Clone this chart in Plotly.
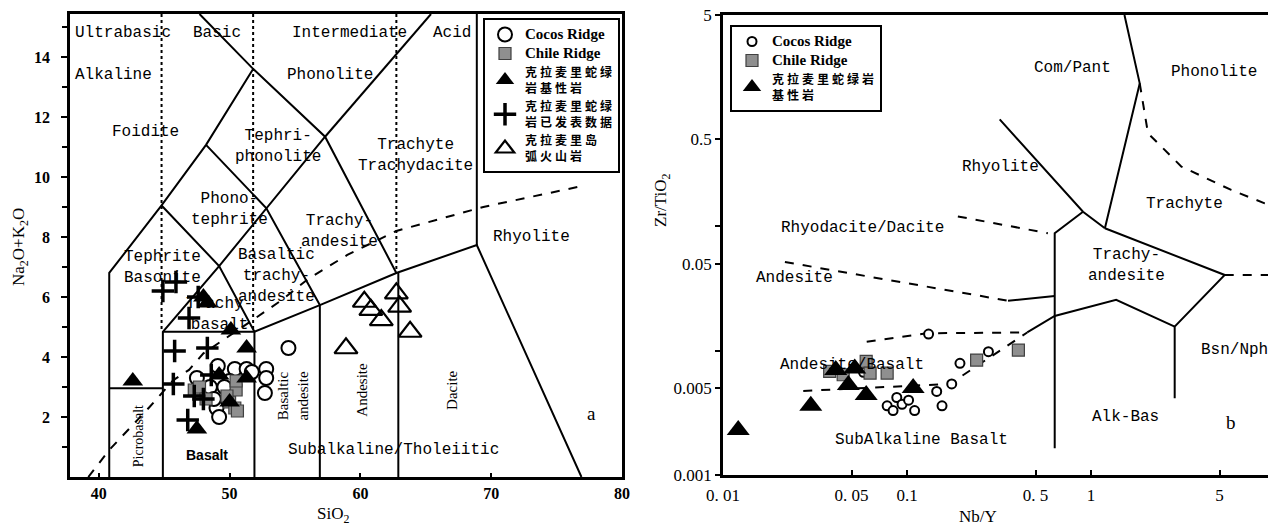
import math
import plotly.graph_objects as go

W, H = 1268, 527

# ---------------- Panel a : TAS (SiO2 vs Na2O+K2O) ----------------
cocos_a_sio2 = [47.5, 48.5, 49.1, 49.0, 49.2, 48.8, 50.4, 51.3, 51.7, 52.8, 52.8, 52.7, 54.5, 50.0, 49.6]
cocos_a_alk = [3.3, 3.0, 3.7, 2.3, 2.0, 2.6, 3.6, 3.6, 3.5, 3.6, 3.3, 2.8, 4.3, 3.2, 3.0]

chile_a_sio2 = [47.3, 47.7, 50.0, 50.5, 50.4, 50.6, 50.5, 49.8, 48.2]
chile_a_alk = [2.9, 3.0, 2.5, 2.9, 2.3, 2.2, 3.2, 2.7, 2.6]

kl_basic_a_sio2 = [42.6, 47.5, 48.0, 48.3, 50.1, 51.3, 49.2, 51.3, 50.0]
kl_basic_a_alk = [3.2, 1.6, 6.0, 5.8, 4.9, 4.3, 3.4, 3.3, 2.5]

kl_pub_a_sio2 = [44.9, 45.9, 46.9, 45.8, 48.3, 45.7, 46.8, 47.6, 48.6, 47.3, 48.0]
kl_pub_a_alk = [6.2, 6.5, 5.3, 4.2, 4.3, 3.1, 1.9, 6.0, 3.4, 2.7, 2.6]

kl_arc_a_sio2 = [60.3, 60.8, 61.6, 62.75, 63.0, 63.8, 58.9]
kl_arc_a_alk = [5.84, 5.57, 5.23, 6.12, 5.68, 4.84, 4.29]

# TAS field boundaries (SiO2, alkali)
tas_foidite_x = [40.8, 40.8, 44.8, 48.2, 51.8]
tas_foidite_y = [0.0, 6.8, 9.05, 11.07, 13.6]
tas_phonolite_x = [47.7, 51.8, 57.3, 62.75]
tas_phonolite_y = [15.43, 13.6, 11.34, 6.8]
tas_trachyte_x = [57.3, 65.4]
tas_trachyte_y = [11.34, 15.43]
tas_tephriphon_x = [48.2, 52.8, 56.9, 56.9]
tas_tephriphon_y = [11.07, 8.96, 5.73, 0.0]
tas_tephrite_x = [44.8, 49.2, 51.9, 51.9]
tas_tephrite_y = [9.05, 7.03, 4.84, 0.0]
tas_trachybas_x = [57.3, 52.8, 49.2, 44.9, 44.9]
tas_trachybas_y = [11.34, 8.96, 7.03, 4.84, 0.0]
tas_basalt_top_x = [44.9, 51.9, 56.9, 62.75, 68.9, 76.9]
tas_basalt_top_y = [4.84, 4.84, 5.73, 6.8, 7.73, 0.0]
tas_picro_x = [40.8, 44.9]
tas_picro_y = [2.96, 2.96]
tas_dacite_x = [62.9, 62.9]
tas_dacite_y = [6.8, 0.0]
tas_rhyolite_x = [68.9, 68.9]
tas_rhyolite_y = [15.43, 7.73]
tas_dotted_x = [44.8, 51.8, 62.75]
tas_dotted_top = [15.43, 15.43, 15.43]
tas_dotted_bot = [4.84, 4.84, 6.8]
irvine_x = [39.2, 40.8, 43.9, 44.9, 45.7, 46.9, 48.0, 52.0, 54.0, 56.0, 59.0, 62.75, 69.4, 77.0]
irvine_y = [0.0, 0.9, 2.34, 2.84, 3.23, 3.57, 4.12, 5.3, 5.9, 6.6, 7.4, 8.2, 9.0, 9.7]

# ---------------- Panel b : Zr/TiO2 vs Nb/Y ----------------
cocos_b_nby = [0.131, 0.058, 0.194, 0.277, 0.175, 0.145, 0.155, 0.078, 0.088, 0.084, 0.094, 0.102, 0.110]
cocos_b_zr = [0.0136, 0.0067, 0.0079, 0.0098, 0.0054, 0.0047, 0.0036, 0.0036, 0.0042, 0.0033, 0.0037, 0.0040, 0.0033]

chile_b_nby = [0.038, 0.045, 0.060, 0.063, 0.078, 0.239, 0.403]
chile_b_zr = [0.0068, 0.0064, 0.0082, 0.0066, 0.0066, 0.0084, 0.0101]

kl_basic_b_nby = [0.0121, 0.030, 0.041, 0.052, 0.048, 0.060, 0.108]
kl_basic_b_zr = [0.0023, 0.0036, 0.0070, 0.0072, 0.0053, 0.0044, 0.0050]

# Winchester & Floyd field boundaries (Nb/Y, Zr/TiO2)
wf_solid = [
    ([1.52, 1.84, 1.19], [5.0, 1.41, 0.0964]),
    ([0.319, 0.905, 1.19], [0.724, 0.131, 0.0964]),
    ([0.905, 0.635, 0.635], [0.131, 0.088, 0.00164]),
    ([1.19, 5.33, 2.85, 2.85], [0.0964, 0.0406, 0.0156, 0.00415]),
    ([0.45, 0.635, 1.37, 2.85], [0.014, 0.019, 0.0256, 0.0156]),
    ([0.354, 0.635], [0.0252, 0.0275]),
]
wf_dashed = [
    ([0.189, 0.583], [0.120, 0.088]),
    ([1.84, 2.04, 3.10, 5.78, 8.79, 9.3], [1.41, 0.56, 0.302, 0.196, 0.153, 0.150]),
    ([5.33, 9.3], [0.0406, 0.0406]),
    ([0.0217, 0.186, 0.354], [0.0516, 0.0299, 0.0252]),
    ([0.0604, 0.128, 0.45], [0.0118, 0.0138, 0.014]),
    ([0.0273, 0.171, 0.45], [0.00474, 0.0054, 0.014]),
]

BIG = "<span style='font-size:15px'>%s</span>"
legend_names_a = [BIG % "Cocos Ridge", BIG % "Chile Ridge",
                  "克 拉 麦 里 蛇 绿<br>岩 基 性 岩",
                  "克 拉 麦 里 蛇 绿<br>岩 已 发 表 数 据",
                  "克 拉 麦 里 岛<br>弧 火 山 岩"]
legend_names_b = [BIG % "Cocos Ridge", BIG % "Chile Ridge",
                  "克 拉 麦 里 蛇 绿 岩<br>基 性 岩"]

fig = go.Figure()


def join(segs):
    xs, ys = [], []
    for sx, sy in segs:
        xs += list(sx) + [None]
        ys += list(sy) + [None]
    return xs, ys


LINE = dict(color="black", width=2)

# --- panel a boundaries ---
solid_a = [
    (tas_foidite_x, tas_foidite_y), (tas_phonolite_x, tas_phonolite_y),
    (tas_trachyte_x, tas_trachyte_y), (tas_tephriphon_x, tas_tephriphon_y),
    (tas_tephrite_x, tas_tephrite_y), (tas_trachybas_x, tas_trachybas_y),
    (tas_basalt_top_x, tas_basalt_top_y), (tas_picro_x, tas_picro_y),
    (tas_dacite_x, tas_dacite_y), (tas_rhyolite_x, tas_rhyolite_y),
]
xs, ys = join(solid_a)
fig.add_trace(go.Scatter(x=xs, y=ys, mode="lines", line=LINE, showlegend=False,
                         hoverinfo="skip", xaxis="x", yaxis="y"))
dot_segs = [([x, x], [t, b]) for x, t, b in zip(tas_dotted_x, tas_dotted_top, tas_dotted_bot)]
xs, ys = join(dot_segs)
fig.add_trace(go.Scatter(x=xs, y=ys, mode="lines", line=dict(color="black", width=2, dash="dot"),
                         showlegend=False, hoverinfo="skip", xaxis="x", yaxis="y"))
fig.add_trace(go.Scatter(x=irvine_x, y=irvine_y, mode="lines",
                         line=dict(color="black", width=2, dash="dash"),
                         showlegend=False, hoverinfo="skip", xaxis="x", yaxis="y"))

# --- panel b boundaries ---
xs, ys = join(wf_solid)
fig.add_trace(go.Scatter(x=xs, y=ys, mode="lines", line=LINE, showlegend=False,
                         hoverinfo="skip", xaxis="x2", yaxis="y2"))
xs, ys = join(wf_dashed)
fig.add_trace(go.Scatter(x=xs, y=ys, mode="lines", line=dict(color="black", width=2, dash="dash"),
                         showlegend=False, hoverinfo="skip", xaxis="x2", yaxis="y2"))

# --- panel a points ---
CHILE = dict(symbol="square", size=12, color="#8f8f8f", line=dict(color="#404040", width=1.2))
COCOS = dict(symbol="circle", size=14, color="white", line=dict(color="black", width=2))
TRI = dict(symbol="triangle-up", size=18, color="black")
fig.add_trace(go.Scatter(x=cocos_a_sio2, y=cocos_a_alk, mode="markers", marker=COCOS,
                         name=legend_names_a[0], legend="legend", xaxis="x", yaxis="y"))
fig.add_trace(go.Scatter(x=chile_a_sio2, y=chile_a_alk, mode="markers", marker=CHILE,
                         name=legend_names_a[1], legend="legend", xaxis="x", yaxis="y"))
fig.add_trace(go.Scatter(x=kl_basic_a_sio2, y=kl_basic_a_alk, mode="markers", marker=TRI,
                         name=legend_names_a[2], legend="legend", xaxis="x", yaxis="y"))
fig.add_trace(go.Scatter(x=kl_pub_a_sio2, y=kl_pub_a_alk, mode="markers",
                         marker=dict(symbol="cross-thin", size=16, color="black",
                                     line=dict(color="black", width=3.5)),
                         name=legend_names_a[3], legend="legend", xaxis="x", yaxis="y"))
fig.add_trace(go.Scatter(x=kl_arc_a_sio2, y=kl_arc_a_alk, mode="markers",
                         marker=dict(symbol="triangle-up-open", size=20, color="black",
                                     line=dict(color="black", width=2.2)),
                         name=legend_names_a[4], legend="legend", xaxis="x", yaxis="y"))

# --- panel b points ---
fig.add_trace(go.Scatter(x=cocos_b_nby, y=cocos_b_zr, mode="markers",
                         marker=dict(symbol="circle", size=9, color="white",
                                     line=dict(color="black", width=2)),
                         name=legend_names_b[0], legend="legend2", xaxis="x2", yaxis="y2"))
fig.add_trace(go.Scatter(x=chile_b_nby, y=chile_b_zr, mode="markers",
                         marker=dict(symbol="square", size=12, color="#8f8f8f",
                                     line=dict(color="#404040", width=1.2)),
                         name=legend_names_b[1], legend="legend2", xaxis="x2", yaxis="y2"))
fig.add_trace(go.Scatter(x=kl_basic_b_nby, y=kl_basic_b_zr, mode="markers",
                         marker=dict(symbol="triangle-up", size=20, color="black"),
                         name=legend_names_b[2], legend="legend2", xaxis="x2", yaxis="y2"))

MONO = dict(family="Liberation Mono", size=16, color="black")
SERIF = dict(family="Liberation Serif", size=15, color="black")

ann = []


def lab(x, y, text, font=MONO, xref="x", yref="y", angle=0, xanchor="center", align="center"):
    ann.append(dict(x=x, y=y, xref=xref, yref=yref, text=text, showarrow=False, font=font,
                    textangle=angle, xanchor=xanchor, yanchor="middle", align=align))


# panel a labels
lab(38.0, 14.8, "Ultrabasic", xanchor="left")
lab(49.0, 14.8, "Basic")
lab(59.2, 14.8, "Intermediate")
lab(67.0, 14.8, "Acid")
lab(38.0, 13.4, "Alkaline", xanchor="left")
lab(57.65, 13.4, "Phonolite")
lab(43.6, 11.5, "Foidite")
lab(53.7, 11.0, "Tephri-<br>phonolite")
lab(64.2, 10.73, "Trachyte<br>Trachydacite")
lab(50.0, 8.9, "Phono-<br>tephrite")
lab(58.4, 8.18, "Trachy-<br>andesite")
lab(73.1, 8.0, "Rhyolite")
lab(44.9, 6.98, "Tephrite<br>Basonite")
lab(53.6, 6.7, "Basaltic<br>trachy-<br>andesite")
lab(49.2, 5.4, "Trachy-<br>basalt")
lab(43.1, 1.37, "Picrobasalt", font=dict(family="Liberation Serif", size=14, color="black"), angle=-90)
lab(48.3, 0.73, "Basalt", font=dict(family="Liberation Sans", size=14, color="black", weight="bold"))
lab(54.85, 2.68, "Basaltic<br>andesite", font=SERIF, angle=-90)
lab(60.1, 2.9, "Andesite", font=SERIF, angle=-90)
lab(67.0, 2.9, "Dacite", font=SERIF, angle=-90)
lab(62.5, 0.9, "Subalkaline/Tholeiitic")
lab(77.7, 2.12, "a", font=dict(family="Liberation Serif", size=19, color="black"))

# panel b labels (log axes -> log10 coordinates)
def lb(px, py, text, **kw):
    lx = -2 + (px - 723) / 184.0
    ly = math.log10(5) - (py - 15) / 124.4
    lab(lx, ly, text, xref="x2", yref="y2", **kw)


lb(1072, 68, "Com/Pant")
lb(1214, 72, "Phonolite")
lb(1000, 167, "Rhyolite")
lb(1184, 204, "Trachyte")
lb(1126, 266, "Trachy-<br>andesite")
lb(862, 228, "Rhyodacite/Dacite")
lb(794, 278, "Andesite")
lb(852, 365, "Andesite/Basalt")
lb(921, 440, "SubAlkaline Basalt")
lb(1234, 350, "Bsn/Nph")
lb(1125, 417, "Alk-Bas")
lb(1231, 423, "b", font=dict(family="Liberation Serif", size=19, color="black"))

# axis titles
TITLE = dict(family="Liberation Serif", size=17, color="black")
for x, y, t, a in [(333, 515, "SiO<sub>2</sub>", 0),
                   (20, 247, "Na<sub>2</sub>O+K<sub>2</sub>O", -90),
                   (662, 200, "Zr/TiO<sub>2</sub>", -90),
                   (978, 516, "Nb/Y", 0)]:
    ann.append(dict(x=x / W, y=1 - y / H, xref="paper", yref="paper", text=t, showarrow=False,
                    font=TITLE, textangle=a, xanchor="center", yanchor="middle"))

TICKFONT_A = dict(family="Liberation Serif", size=16, color="black", weight="bold")
TICKFONT_B = dict(family="Liberation Serif", size=17, color="black")
LEGFONT = dict(family="Liberation Serif, Noto Sans CJK SC", size=12, color="black", weight="bold")

fig.update_layout(
    template="none",
    width=W, height=H, autosize=False,
    margin=dict(l=0, r=0, t=0, b=0, pad=0),
    paper_bgcolor="white", plot_bgcolor="white",
    showlegend=True,
    annotations=ann,
    xaxis=dict(domain=[70 / W, 622 / W], range=[37.8, 80], tickvals=[40, 50, 60, 70, 80],
               showline=True, linewidth=2.5, linecolor="black", mirror=True, ticks="inside",
               ticklen=4, tickwidth=2, tickcolor="black", tickfont=TICKFONT_A, automargin=False,
               showgrid=False, zeroline=False, anchor="y"),
    yaxis=dict(domain=[1 - 477 / H, 1 - 14 / H], range=[0, 15.43], tickvals=list(range(2, 15, 2)),
               showline=True, linewidth=2.5, linecolor="black", mirror=True, ticks="outside",
               ticklen=6, tickwidth=2, tickcolor="black", tickfont=TICKFONT_A,
               ticklabelstandoff=8, automargin=False,
               minor=dict(tickvals=list(range(1, 16)), ticks="outside", ticklen=5, tickwidth=2,
                          tickcolor="black", showgrid=False),
               showgrid=False, zeroline=False, anchor="x"),
    xaxis2=dict(type="log", domain=[723 / W, 1.0], range=[-2, -2 + (W - 723) / 184.0],
                tickvals=[0.01, 0.05, 0.1, 0.5, 1, 5],
                ticktext=["0. 01", "0. 05", "0.1", "0. 5", "1", "5"],
                showline=True, linewidth=2.5, linecolor="black", mirror=True, ticks="inside",
                ticklen=5, tickwidth=2, tickcolor="black", tickfont=TICKFONT_B, automargin=False,
                ticklabelstandoff=3,
                showgrid=False, zeroline=False, anchor="y2"),
    yaxis2=dict(type="log", domain=[1 - 475 / H, 1 - 15 / H], range=[-3, math.log10(5)],
                tickvals=[0.001, 0.005, 0.01, 0.05, 0.1, 0.5, 5],
                ticktext=["0.001", "0.005", " ", "0.05", " ", "0.5", "5"],
                showline=True, linewidth=2.5, linecolor="black", mirror=False, ticks="outside",
                ticklen=5, tickwidth=2, tickcolor="black", tickfont=TICKFONT_B, automargin=False,
                showgrid=False, zeroline=False, anchor="x2"),
    legend=dict(x=483 / W, y=1 - 18 / H, xanchor="left", yanchor="top", bgcolor="white",
                bordercolor="black", borderwidth=2, font=LEGFONT, tracegroupgap=0,
                itemwidth=30, traceorder="normal"),
    legend2=dict(x=730 / W, y=1 - 25 / H, xanchor="left", yanchor="top", bgcolor="white",
                 bordercolor="black", borderwidth=2, font=LEGFONT, tracegroupgap=0,
                 itemwidth=30, traceorder="normal"),
)

fig.write_html("out.html")
